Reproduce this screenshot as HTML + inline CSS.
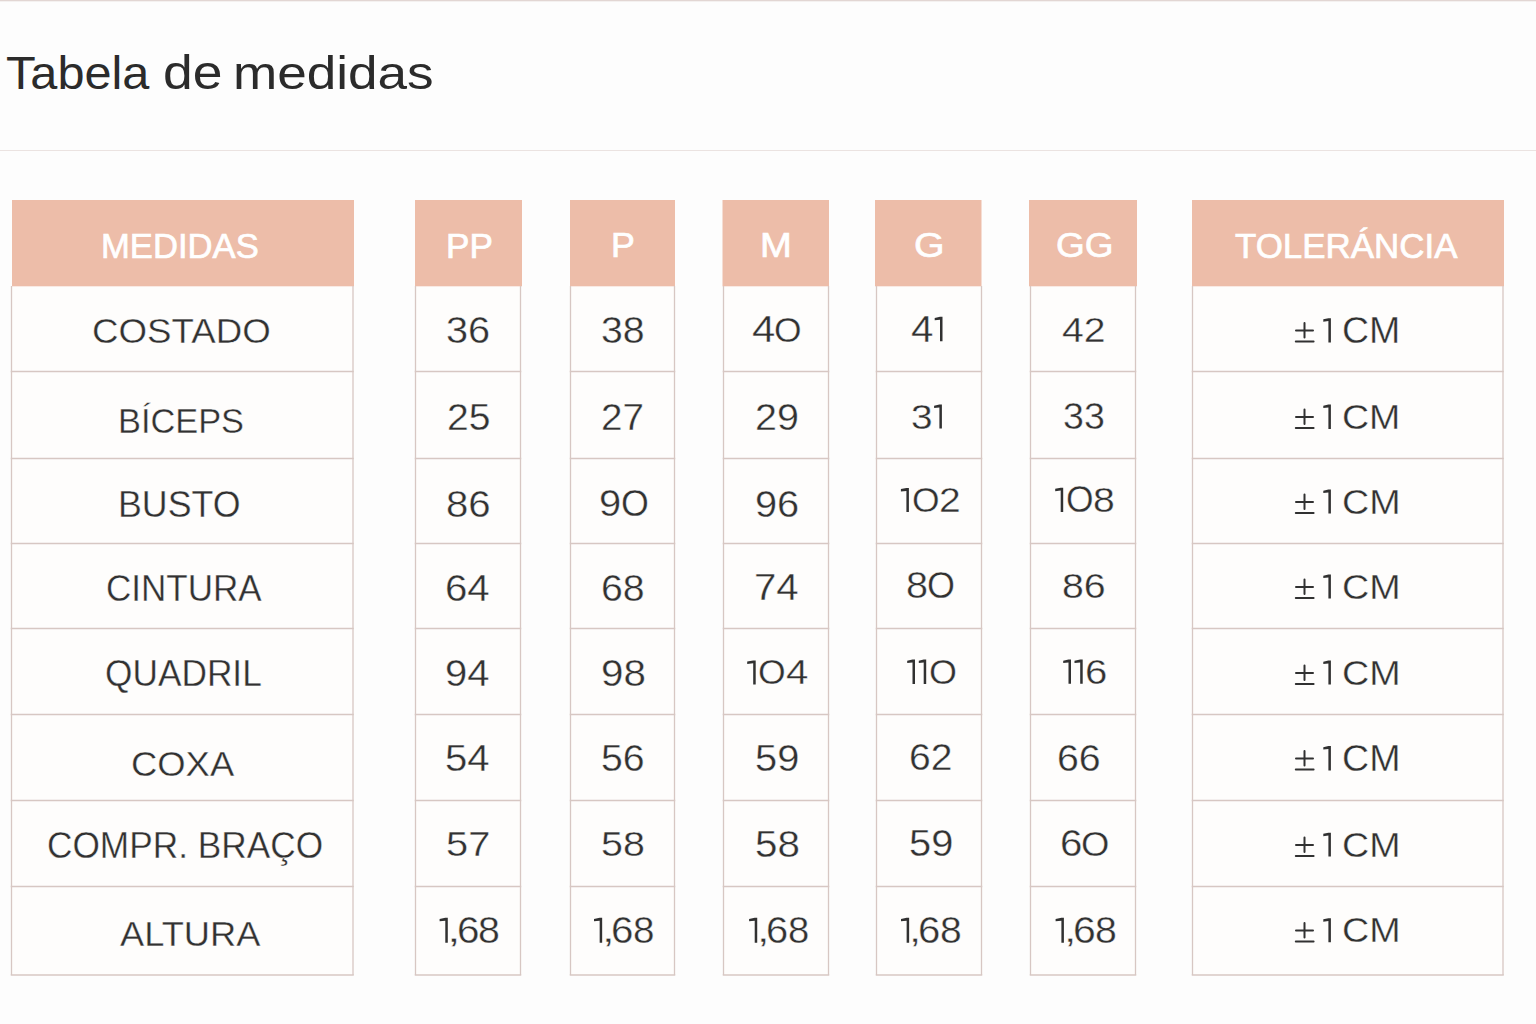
<!DOCTYPE html><html><head><meta charset="utf-8"><style>
html,body{margin:0;padding:0;}
body{width:1536px;height:1024px;position:relative;overflow:hidden;background:#fdfdfd;font-family:"Liberation Sans",sans-serif;}
.t{position:absolute;white-space:nowrap;line-height:1;transform-origin:0 0;}
</style></head><body>
<svg width="1536" height="1024" style="position:absolute;left:0;top:0"><rect x="0" y="0" width="1536" height="1.3" fill="#e2d6d3"/><rect x="0" y="150" width="1536" height="1" fill="#ebe3e1"/><rect x="11.5" y="286.0" width="341.5" height="689.0" fill="#fefdfc"/><rect x="12" y="200" width="342" height="86.3" fill="#edbda9"/><rect x="415.5" y="286.0" width="105.0" height="689.0" fill="#fefdfc"/><rect x="415" y="200" width="107" height="86.3" fill="#edbda9"/><rect x="570.5" y="286.0" width="104.0" height="689.0" fill="#fefdfc"/><rect x="570" y="200" width="105" height="86.3" fill="#edbda9"/><rect x="723.5" y="286.0" width="105.0" height="689.0" fill="#fefdfc"/><rect x="722.5" y="200" width="106.5" height="86.3" fill="#edbda9"/><rect x="876.5" y="286.0" width="105.0" height="689.0" fill="#fefdfc"/><rect x="875" y="200" width="106.5" height="86.3" fill="#edbda9"/><rect x="1030.5" y="286.0" width="105.0" height="689.0" fill="#fefdfc"/><rect x="1029" y="200" width="108" height="86.3" fill="#edbda9"/><rect x="1192.5" y="286.0" width="310.5" height="689.0" fill="#fefdfc"/><rect x="1192" y="200" width="312" height="86.3" fill="#edbda9"/><line x1="11.5" y1="286.0" x2="11.5" y2="975.0" stroke="#d7c7c3" stroke-width="1.3"/><line x1="353.0" y1="286.0" x2="353.0" y2="975.0" stroke="#d7c7c3" stroke-width="1.3"/><line x1="10.75" y1="371.5" x2="353.75" y2="371.5" stroke="#d7c7c3" stroke-width="1.3"/><line x1="10.75" y1="458.5" x2="353.75" y2="458.5" stroke="#d7c7c3" stroke-width="1.3"/><line x1="10.75" y1="543.5" x2="353.75" y2="543.5" stroke="#d7c7c3" stroke-width="1.3"/><line x1="10.75" y1="628.5" x2="353.75" y2="628.5" stroke="#d7c7c3" stroke-width="1.3"/><line x1="10.75" y1="714.5" x2="353.75" y2="714.5" stroke="#d7c7c3" stroke-width="1.3"/><line x1="10.75" y1="800.5" x2="353.75" y2="800.5" stroke="#d7c7c3" stroke-width="1.3"/><line x1="10.75" y1="886.5" x2="353.75" y2="886.5" stroke="#d7c7c3" stroke-width="1.3"/><line x1="10.75" y1="975.0" x2="353.75" y2="975.0" stroke="#d7c7c3" stroke-width="1.3"/><line x1="415.5" y1="286.0" x2="415.5" y2="975.0" stroke="#d7c7c3" stroke-width="1.3"/><line x1="520.5" y1="286.0" x2="520.5" y2="975.0" stroke="#d7c7c3" stroke-width="1.3"/><line x1="414.75" y1="371.5" x2="521.25" y2="371.5" stroke="#d7c7c3" stroke-width="1.3"/><line x1="414.75" y1="458.5" x2="521.25" y2="458.5" stroke="#d7c7c3" stroke-width="1.3"/><line x1="414.75" y1="543.5" x2="521.25" y2="543.5" stroke="#d7c7c3" stroke-width="1.3"/><line x1="414.75" y1="628.5" x2="521.25" y2="628.5" stroke="#d7c7c3" stroke-width="1.3"/><line x1="414.75" y1="714.5" x2="521.25" y2="714.5" stroke="#d7c7c3" stroke-width="1.3"/><line x1="414.75" y1="800.5" x2="521.25" y2="800.5" stroke="#d7c7c3" stroke-width="1.3"/><line x1="414.75" y1="886.5" x2="521.25" y2="886.5" stroke="#d7c7c3" stroke-width="1.3"/><line x1="414.75" y1="975.0" x2="521.25" y2="975.0" stroke="#d7c7c3" stroke-width="1.3"/><line x1="570.5" y1="286.0" x2="570.5" y2="975.0" stroke="#d7c7c3" stroke-width="1.3"/><line x1="674.5" y1="286.0" x2="674.5" y2="975.0" stroke="#d7c7c3" stroke-width="1.3"/><line x1="569.75" y1="371.5" x2="675.25" y2="371.5" stroke="#d7c7c3" stroke-width="1.3"/><line x1="569.75" y1="458.5" x2="675.25" y2="458.5" stroke="#d7c7c3" stroke-width="1.3"/><line x1="569.75" y1="543.5" x2="675.25" y2="543.5" stroke="#d7c7c3" stroke-width="1.3"/><line x1="569.75" y1="628.5" x2="675.25" y2="628.5" stroke="#d7c7c3" stroke-width="1.3"/><line x1="569.75" y1="714.5" x2="675.25" y2="714.5" stroke="#d7c7c3" stroke-width="1.3"/><line x1="569.75" y1="800.5" x2="675.25" y2="800.5" stroke="#d7c7c3" stroke-width="1.3"/><line x1="569.75" y1="886.5" x2="675.25" y2="886.5" stroke="#d7c7c3" stroke-width="1.3"/><line x1="569.75" y1="975.0" x2="675.25" y2="975.0" stroke="#d7c7c3" stroke-width="1.3"/><line x1="723.5" y1="286.0" x2="723.5" y2="975.0" stroke="#d7c7c3" stroke-width="1.3"/><line x1="828.5" y1="286.0" x2="828.5" y2="975.0" stroke="#d7c7c3" stroke-width="1.3"/><line x1="722.75" y1="371.5" x2="829.25" y2="371.5" stroke="#d7c7c3" stroke-width="1.3"/><line x1="722.75" y1="458.5" x2="829.25" y2="458.5" stroke="#d7c7c3" stroke-width="1.3"/><line x1="722.75" y1="543.5" x2="829.25" y2="543.5" stroke="#d7c7c3" stroke-width="1.3"/><line x1="722.75" y1="628.5" x2="829.25" y2="628.5" stroke="#d7c7c3" stroke-width="1.3"/><line x1="722.75" y1="714.5" x2="829.25" y2="714.5" stroke="#d7c7c3" stroke-width="1.3"/><line x1="722.75" y1="800.5" x2="829.25" y2="800.5" stroke="#d7c7c3" stroke-width="1.3"/><line x1="722.75" y1="886.5" x2="829.25" y2="886.5" stroke="#d7c7c3" stroke-width="1.3"/><line x1="722.75" y1="975.0" x2="829.25" y2="975.0" stroke="#d7c7c3" stroke-width="1.3"/><line x1="876.5" y1="286.0" x2="876.5" y2="975.0" stroke="#d7c7c3" stroke-width="1.3"/><line x1="981.5" y1="286.0" x2="981.5" y2="975.0" stroke="#d7c7c3" stroke-width="1.3"/><line x1="875.75" y1="371.5" x2="982.25" y2="371.5" stroke="#d7c7c3" stroke-width="1.3"/><line x1="875.75" y1="458.5" x2="982.25" y2="458.5" stroke="#d7c7c3" stroke-width="1.3"/><line x1="875.75" y1="543.5" x2="982.25" y2="543.5" stroke="#d7c7c3" stroke-width="1.3"/><line x1="875.75" y1="628.5" x2="982.25" y2="628.5" stroke="#d7c7c3" stroke-width="1.3"/><line x1="875.75" y1="714.5" x2="982.25" y2="714.5" stroke="#d7c7c3" stroke-width="1.3"/><line x1="875.75" y1="800.5" x2="982.25" y2="800.5" stroke="#d7c7c3" stroke-width="1.3"/><line x1="875.75" y1="886.5" x2="982.25" y2="886.5" stroke="#d7c7c3" stroke-width="1.3"/><line x1="875.75" y1="975.0" x2="982.25" y2="975.0" stroke="#d7c7c3" stroke-width="1.3"/><line x1="1030.5" y1="286.0" x2="1030.5" y2="975.0" stroke="#d7c7c3" stroke-width="1.3"/><line x1="1135.5" y1="286.0" x2="1135.5" y2="975.0" stroke="#d7c7c3" stroke-width="1.3"/><line x1="1029.75" y1="371.5" x2="1136.25" y2="371.5" stroke="#d7c7c3" stroke-width="1.3"/><line x1="1029.75" y1="458.5" x2="1136.25" y2="458.5" stroke="#d7c7c3" stroke-width="1.3"/><line x1="1029.75" y1="543.5" x2="1136.25" y2="543.5" stroke="#d7c7c3" stroke-width="1.3"/><line x1="1029.75" y1="628.5" x2="1136.25" y2="628.5" stroke="#d7c7c3" stroke-width="1.3"/><line x1="1029.75" y1="714.5" x2="1136.25" y2="714.5" stroke="#d7c7c3" stroke-width="1.3"/><line x1="1029.75" y1="800.5" x2="1136.25" y2="800.5" stroke="#d7c7c3" stroke-width="1.3"/><line x1="1029.75" y1="886.5" x2="1136.25" y2="886.5" stroke="#d7c7c3" stroke-width="1.3"/><line x1="1029.75" y1="975.0" x2="1136.25" y2="975.0" stroke="#d7c7c3" stroke-width="1.3"/><line x1="1192.5" y1="286.0" x2="1192.5" y2="975.0" stroke="#d7c7c3" stroke-width="1.3"/><line x1="1503.0" y1="286.0" x2="1503.0" y2="975.0" stroke="#d7c7c3" stroke-width="1.3"/><line x1="1191.75" y1="371.5" x2="1503.75" y2="371.5" stroke="#d7c7c3" stroke-width="1.3"/><line x1="1191.75" y1="458.5" x2="1503.75" y2="458.5" stroke="#d7c7c3" stroke-width="1.3"/><line x1="1191.75" y1="543.5" x2="1503.75" y2="543.5" stroke="#d7c7c3" stroke-width="1.3"/><line x1="1191.75" y1="628.5" x2="1503.75" y2="628.5" stroke="#d7c7c3" stroke-width="1.3"/><line x1="1191.75" y1="714.5" x2="1503.75" y2="714.5" stroke="#d7c7c3" stroke-width="1.3"/><line x1="1191.75" y1="800.5" x2="1503.75" y2="800.5" stroke="#d7c7c3" stroke-width="1.3"/><line x1="1191.75" y1="886.5" x2="1503.75" y2="886.5" stroke="#d7c7c3" stroke-width="1.3"/><line x1="1191.75" y1="975.0" x2="1503.75" y2="975.0" stroke="#d7c7c3" stroke-width="1.3"/></svg>
<div class="t" style="left:6.105px;top:49.213px;font-size:49.400px;transform:scale(0.98542,0.94444);color:#2b2b2b;">Tabela</div>
<div class="t" style="left:163.206px;top:48.692px;font-size:48.800px;transform:scale(1.09562,0.97284);color:#2b2b2b;">de</div>
<div class="t" style="left:233.488px;top:49.213px;font-size:49.400px;transform:scale(1.07479,0.94444);color:#2b2b2b;">medidas</div>
<div class="t" style="left:101.327px;top:228.680px;font-size:35.900px;transform:scale(0.96523,0.99085);color:#ffffff;-webkit-text-stroke:0.7px #ffffff;">MEDIDAS</div>
<div class="t" style="left:446.193px;top:229.756px;font-size:34.900px;transform:scale(1.00828,0.97951);color:#ffffff;-webkit-text-stroke:0.7px #ffffff;">PP</div>
<div class="t" style="left:610.853px;top:227.493px;font-size:35.200px;transform:scale(1.01796,0.98768);color:#ffffff;-webkit-text-stroke:0.7px #ffffff;">P</div>
<div class="t" style="left:760.076px;top:227.493px;font-size:35.200px;transform:scale(1.08546,0.98768);color:#ffffff;-webkit-text-stroke:0.7px #ffffff;">M</div>
<div class="t" style="left:914.149px;top:228.495px;font-size:36.300px;transform:scale(1.08274,0.97185);color:#ffffff;-webkit-text-stroke:0.7px #ffffff;">G</div>
<div class="t" style="left:1055.944px;top:228.495px;font-size:36.300px;transform:scale(1.01842,0.97185);color:#ffffff;-webkit-text-stroke:0.7px #ffffff;">GG</div>
<div class="t" style="left:1234.876px;top:228.393px;font-size:35.200px;transform:scale(0.99196,0.99210);color:#ffffff;-webkit-text-stroke:0.7px #ffffff;">TOLERÁNCIA</div>
<div class="t" style="left:92.110px;top:312.556px;font-size:34.000px;transform:scale(1.07889,1.04556);color:#313131;-webkit-text-stroke:0.35px #fefdfc;">COSTADO</div>
<div class="t" style="left:446.214px;top:313.001px;font-size:36.900px;transform:scale(1.07442,1.00760);color:#313131;-webkit-text-stroke:0.35px #fefdfc;">36</div>
<div class="t" style="left:600.754px;top:312.613px;font-size:36.900px;transform:scale(1.06210,0.99620);color:#313131;-webkit-text-stroke:0.35px #fefdfc;">38</div>
<div class="t" style="left:751.688px;top:310.929px;font-size:35.300px;transform:scale(1.18926,1.03562);color:#313131;-webkit-text-stroke:0.35px #fefdfc;">4</div>
<div class="t" style="left:774.180px;top:312.137px;font-size:35.300px;transform:scale(1.00379,0.99338);color:#313131;-webkit-text-stroke:0.35px #fefdfc;">O</div>
<div class="t" style="left:911.244px;top:311.252px;font-size:35.500px;transform:scale(1.13718,1.05418);color:#313131;-webkit-text-stroke:0.35px #fefdfc;">4</div>
<div class="t" style="left:1061.527px;top:311.434px;font-size:35.200px;transform:scale(1.11174,1.02151);color:#313131;-webkit-text-stroke:0.35px #fefdfc;">42</div>
<div class="t" style="left:1342.090px;top:311.701px;font-size:35.300px;transform:scale(1.06314,1.02915);color:#313131;-webkit-text-stroke:0.35px #fefdfc;">CM</div>
<div class="t" style="left:118.290px;top:403.192px;font-size:34.900px;transform:scale(0.98413,1.01911);color:#313131;-webkit-text-stroke:0.35px #fefdfc;">BÍCEPS</div>
<div class="t" style="left:446.906px;top:399.791px;font-size:36.300px;transform:scale(1.07667,0.99627);color:#313131;-webkit-text-stroke:0.35px #fefdfc;">25</div>
<div class="t" style="left:600.820px;top:399.791px;font-size:36.300px;transform:scale(1.06329,0.99627);color:#313131;-webkit-text-stroke:0.35px #fefdfc;">27</div>
<div class="t" style="left:754.726px;top:398.956px;font-size:35.900px;transform:scale(1.10080,1.05305);color:#313131;-webkit-text-stroke:0.35px #fefdfc;">29</div>
<div class="t" style="left:910.935px;top:400.062px;font-size:34.900px;transform:scale(1.11215,0.98429);color:#313131;-webkit-text-stroke:0.35px #fefdfc;">3</div>
<div class="t" style="left:1063.079px;top:398.695px;font-size:35.900px;transform:scale(1.04584,1.04960);color:#313131;-webkit-text-stroke:0.35px #fefdfc;">33</div>
<div class="t" style="left:1342.433px;top:400.499px;font-size:35.500px;transform:scale(1.05645,1.00992);color:#313131;-webkit-text-stroke:0.35px #fefdfc;">CM</div>
<div class="t" style="left:117.949px;top:486.707px;font-size:35.800px;transform:scale(0.99884,1.01981);color:#313131;-webkit-text-stroke:0.35px #fefdfc;">BUSTO</div>
<div class="t" style="left:445.696px;top:486.554px;font-size:35.800px;transform:scale(1.12249,1.02510);color:#313131;-webkit-text-stroke:0.35px #fefdfc;">86</div>
<div class="t" style="left:598.885px;top:486.467px;font-size:35.800px;transform:scale(1.11398,1.01929);color:#313131;-webkit-text-stroke:0.35px #fefdfc;">9</div>
<div class="t" style="left:621.253px;top:485.563px;font-size:35.800px;transform:scale(1.00137,1.04826);color:#313131;-webkit-text-stroke:0.35px #fefdfc;">O</div>
<div class="t" style="left:754.915px;top:487.198px;font-size:36.300px;transform:scale(1.09579,0.99709);color:#313131;-webkit-text-stroke:0.35px #fefdfc;">96</div>
<div class="t" style="left:912.283px;top:482.384px;font-size:34.700px;transform:scale(1.02170,1.03755);color:#313131;-webkit-text-stroke:0.35px #fefdfc;">O</div>
<div class="t" style="left:939.114px;top:483.236px;font-size:34.700px;transform:scale(1.12365,0.99483);color:#313131;-webkit-text-stroke:0.35px #fefdfc;">2</div>
<div class="t" style="left:1065.925px;top:480.890px;font-size:35.200px;transform:scale(1.00661,1.02619);color:#313131;-webkit-text-stroke:0.35px #fefdfc;">O</div>
<div class="t" style="left:1093.084px;top:482.277px;font-size:35.200px;transform:scale(1.11293,0.98727);color:#313131;-webkit-text-stroke:0.35px #fefdfc;">8</div>
<div class="t" style="left:1341.862px;top:484.221px;font-size:34.700px;transform:scale(1.08585,1.02222);color:#313131;-webkit-text-stroke:0.35px #fefdfc;">CM</div>
<div class="t" style="left:106.196px;top:570.608px;font-size:35.800px;transform:scale(0.97870,1.02801);color:#313131;-webkit-text-stroke:0.35px #fefdfc;">CINTURA</div>
<div class="t" style="left:444.993px;top:570.607px;font-size:35.800px;transform:scale(1.12383,1.02818);color:#313131;-webkit-text-stroke:0.35px #fefdfc;">64</div>
<div class="t" style="left:600.756px;top:569.828px;font-size:35.800px;transform:scale(1.09660,1.05393);color:#313131;-webkit-text-stroke:0.35px #fefdfc;">68</div>
<div class="t" style="left:753.565px;top:570.420px;font-size:36.800px;transform:scale(1.09064,0.99053);color:#313131;-webkit-text-stroke:0.35px #fefdfc;">74</div>
<div class="t" style="left:905.898px;top:567.545px;font-size:35.500px;transform:scale(1.11645,1.04363);color:#313131;-webkit-text-stroke:0.35px #fefdfc;">8</div>
<div class="t" style="left:927.089px;top:567.915px;font-size:35.500px;transform:scale(1.01247,1.03072);color:#313131;-webkit-text-stroke:0.35px #fefdfc;">O</div>
<div class="t" style="left:1061.989px;top:568.234px;font-size:36.000px;transform:scale(1.09204,0.99620);color:#313131;-webkit-text-stroke:0.35px #fefdfc;">86</div>
<div class="t" style="left:1341.862px;top:569.221px;font-size:34.700px;transform:scale(1.08585,1.02222);color:#313131;-webkit-text-stroke:0.35px #fefdfc;">CM</div>
<div class="t" style="left:104.913px;top:655.608px;font-size:35.800px;transform:scale(0.98527,1.02801);color:#313131;-webkit-text-stroke:0.35px #fefdfc;">QUADRIL</div>
<div class="t" style="left:445.054px;top:654.879px;font-size:35.800px;transform:scale(1.11818,1.05216);color:#313131;-webkit-text-stroke:0.35px #fefdfc;">94</div>
<div class="t" style="left:600.748px;top:654.776px;font-size:35.800px;transform:scale(1.12820,1.05571);color:#313131;-webkit-text-stroke:0.35px #fefdfc;">98</div>
<div class="t" style="left:758.356px;top:653.957px;font-size:35.200px;transform:scale(1.00946,1.00829);color:#313131;-webkit-text-stroke:0.35px #fefdfc;">O</div>
<div class="t" style="left:785.925px;top:655.497px;font-size:35.200px;transform:scale(1.14404,0.98225);color:#313131;-webkit-text-stroke:0.35px #fefdfc;">4</div>
<div class="t" style="left:929.040px;top:654.372px;font-size:35.300px;transform:scale(1.01672,0.99970);color:#313131;-webkit-text-stroke:0.35px #fefdfc;">O</div>
<div class="t" style="left:1084.575px;top:654.608px;font-size:35.000px;transform:scale(1.14750,0.98189);color:#313131;-webkit-text-stroke:0.35px #fefdfc;">6</div>
<div class="t" style="left:1341.875px;top:655.166px;font-size:34.900px;transform:scale(1.07970,1.02650);color:#313131;-webkit-text-stroke:0.35px #fefdfc;">CM</div>
<div class="t" style="left:130.840px;top:746.085px;font-size:35.200px;transform:scale(1.03461,0.99496);color:#313131;-webkit-text-stroke:0.35px #fefdfc;">COXA</div>
<div class="t" style="left:444.966px;top:739.878px;font-size:35.800px;transform:scale(1.12046,1.05234);color:#313131;-webkit-text-stroke:0.35px #fefdfc;">54</div>
<div class="t" style="left:600.802px;top:739.878px;font-size:35.800px;transform:scale(1.09541,1.05234);color:#313131;-webkit-text-stroke:0.35px #fefdfc;">56</div>
<div class="t" style="left:754.887px;top:741.018px;font-size:36.800px;transform:scale(1.08169,0.99622);color:#313131;-webkit-text-stroke:0.35px #fefdfc;">59</div>
<div class="t" style="left:909.189px;top:740.083px;font-size:35.900px;transform:scale(1.08751,1.02417);color:#313131;-webkit-text-stroke:0.35px #fefdfc;">62</div>
<div class="t" style="left:1056.995px;top:740.965px;font-size:36.800px;transform:scale(1.06718,0.99853);color:#313131;-webkit-text-stroke:0.35px #fefdfc;">66</div>
<div class="t" style="left:1341.865px;top:740.012px;font-size:35.300px;transform:scale(1.06534,1.03933);color:#313131;-webkit-text-stroke:0.35px #fefdfc;">CM</div>
<div class="t" style="left:47.245px;top:827.583px;font-size:36.900px;transform:scale(0.95521,1.00077);color:#313131;-webkit-text-stroke:0.35px #fefdfc;">COMPR. BRAÇO</div>
<div class="t" style="left:445.831px;top:826.578px;font-size:35.000px;transform:scale(1.13775,0.97878);color:#313131;-webkit-text-stroke:0.35px #fefdfc;">57</div>
<div class="t" style="left:600.629px;top:826.578px;font-size:35.000px;transform:scale(1.12668,0.97878);color:#313131;-webkit-text-stroke:0.35px #fefdfc;">58</div>
<div class="t" style="left:755.104px;top:827.256px;font-size:36.300px;transform:scale(1.11211,0.99441);color:#313131;-webkit-text-stroke:0.35px #fefdfc;">58</div>
<div class="t" style="left:909.060px;top:825.599px;font-size:36.300px;transform:scale(1.09741,0.99813);color:#313131;-webkit-text-stroke:0.35px #fefdfc;">59</div>
<div class="t" style="left:1059.690px;top:825.651px;font-size:34.600px;transform:scale(1.16399,1.04318);color:#313131;-webkit-text-stroke:0.35px #fefdfc;">6</div>
<div class="t" style="left:1081.190px;top:826.775px;font-size:34.600px;transform:scale(1.05409,0.99623);color:#313131;-webkit-text-stroke:0.35px #fefdfc;">O</div>
<div class="t" style="left:1341.865px;top:827.462px;font-size:34.600px;transform:scale(1.08654,1.01795);color:#313131;-webkit-text-stroke:0.35px #fefdfc;">CM</div>
<div class="t" style="left:119.809px;top:915.256px;font-size:35.200px;transform:scale(1.03004,1.02151);color:#313131;-webkit-text-stroke:0.35px #fefdfc;">ALTURA</div>
<div class="t" style="left:447.048px;top:913.266px;font-size:36.000px;transform:scale(1.36612,0.97493);color:#313131;-webkit-text-stroke:0.35px #fefdfc;">,</div>
<div class="t" style="left:457.293px;top:912.837px;font-size:36.200px;transform:scale(1.11604,1.00465);color:#313131;-webkit-text-stroke:0.35px #fefdfc;">6</div>
<div class="t" style="left:477.866px;top:913.127px;font-size:36.200px;transform:scale(1.08580,0.99479);color:#313131;-webkit-text-stroke:0.35px #fefdfc;">8</div>
<div class="t" style="left:602.200px;top:912.185px;font-size:36.000px;transform:scale(1.26749,0.99453);color:#313131;-webkit-text-stroke:0.35px #fefdfc;">,</div>
<div class="t" style="left:611.199px;top:912.967px;font-size:36.200px;transform:scale(1.11351,1.00466);color:#313131;-webkit-text-stroke:0.35px #fefdfc;">6</div>
<div class="t" style="left:632.886px;top:912.989px;font-size:36.200px;transform:scale(1.06650,1.00120);color:#313131;-webkit-text-stroke:0.35px #fefdfc;">8</div>
<div class="t" style="left:756.519px;top:912.199px;font-size:36.000px;transform:scale(1.24677,0.99401);color:#313131;-webkit-text-stroke:0.35px #fefdfc;">,</div>
<div class="t" style="left:766.269px;top:913.026px;font-size:36.200px;transform:scale(1.10124,1.00302);color:#313131;-webkit-text-stroke:0.35px #fefdfc;">6</div>
<div class="t" style="left:787.552px;top:913.118px;font-size:36.200px;transform:scale(1.05564,0.99509);color:#313131;-webkit-text-stroke:0.35px #fefdfc;">8</div>
<div class="t" style="left:909.141px;top:913.232px;font-size:36.000px;transform:scale(1.21164,0.97638);color:#313131;-webkit-text-stroke:0.35px #fefdfc;">,</div>
<div class="t" style="left:918.041px;top:913.004px;font-size:36.200px;transform:scale(1.10835,1.00392);color:#313131;-webkit-text-stroke:0.35px #fefdfc;">6</div>
<div class="t" style="left:939.710px;top:912.820px;font-size:36.200px;transform:scale(1.07877,1.00575);color:#313131;-webkit-text-stroke:0.35px #fefdfc;">8</div>
<div class="t" style="left:1063.688px;top:913.232px;font-size:36.000px;transform:scale(1.23450,0.97638);color:#313131;-webkit-text-stroke:0.35px #fefdfc;">,</div>
<div class="t" style="left:1072.660px;top:913.042px;font-size:36.200px;transform:scale(1.13083,1.00138);color:#313131;-webkit-text-stroke:0.35px #fefdfc;">6</div>
<div class="t" style="left:1094.555px;top:912.926px;font-size:36.200px;transform:scale(1.08384,1.00563);color:#313131;-webkit-text-stroke:0.35px #fefdfc;">8</div>
<div class="t" style="left:1341.875px;top:912.355px;font-size:34.900px;transform:scale(1.07970,1.02650);color:#313131;-webkit-text-stroke:0.35px #fefdfc;">CM</div>
<svg width="1536" height="1024" style="position:absolute;left:0;top:0"><path d="M934.70,317.90 L940.00,316.80 L942.50,316.80 L942.50,341.25 L940.00,341.25 L940.00,319.70 L934.70,320.30 Z" fill="#313131"/><path d="M1304.5,323.00V337.60M1296,330.50H1313M1295.8,341.50H1313.6" fill="none" stroke="#313131" stroke-width="2" stroke-linecap="round"/><path d="M1323.30,319.30 L1328.40,318.20 L1330.90,318.20 L1330.90,342.50 L1328.40,342.50 L1328.40,321.10 L1323.30,321.70 Z" fill="#313131"/><path d="M934.10,405.70 L939.40,404.60 L941.90,404.60 L941.90,428.60 L939.40,428.60 L939.40,407.50 L934.10,408.10 Z" fill="#313131"/><path d="M1304.5,409.40V424.00M1296,416.90H1313M1295.8,427.90H1313.6" fill="none" stroke="#313131" stroke-width="2" stroke-linecap="round"/><path d="M1323.30,405.70 L1328.40,404.60 L1330.90,404.60 L1330.90,429.00 L1328.40,429.00 L1328.40,407.50 L1323.30,408.10 Z" fill="#313131"/><path d="M900.90,489.10 L906.40,488.00 L908.90,488.00 L908.90,511.90 L906.40,511.90 L906.40,490.90 L900.90,491.50 Z" fill="#313131"/><path d="M1055.20,488.80 L1060.70,487.70 L1063.20,487.70 L1063.20,511.90 L1060.70,511.90 L1060.70,490.60 L1055.20,491.20 Z" fill="#313131"/><path d="M1304.5,494.40V509.00M1296,501.90H1313M1295.8,512.90H1313.6" fill="none" stroke="#313131" stroke-width="2" stroke-linecap="round"/><path d="M1323.30,490.70 L1328.40,489.60 L1330.90,489.60 L1330.90,513.50 L1328.40,513.50 L1328.40,492.50 L1323.30,493.10 Z" fill="#313131"/><path d="M1304.5,579.40V594.00M1296,586.90H1313M1295.8,597.90H1313.6" fill="none" stroke="#313131" stroke-width="2" stroke-linecap="round"/><path d="M1323.30,575.70 L1328.40,574.60 L1330.90,574.60 L1330.90,598.50 L1328.40,598.50 L1328.40,577.50 L1323.30,578.10 Z" fill="#313131"/><path d="M747.20,661.50 L753.20,660.40 L755.70,660.40 L755.70,684.60 L753.20,684.60 L753.20,663.30 L747.20,663.90 Z" fill="#313131"/><path d="M907.20,660.70 L912.50,659.60 L915.00,659.60 L915.00,683.90 L912.50,683.90 L912.50,662.50 L907.20,663.10 Z" fill="#313131"/><path d="M918.80,660.70 L923.70,659.60 L926.20,659.60 L926.20,683.90 L923.70,683.90 L923.70,662.50 L918.80,663.10 Z" fill="#313131"/><path d="M1063.20,660.70 L1068.50,659.60 L1071.00,659.60 L1071.00,683.70 L1068.50,683.70 L1068.50,662.50 L1063.20,663.10 Z" fill="#313131"/><path d="M1074.50,660.70 L1080.20,659.60 L1082.70,659.60 L1082.70,683.70 L1080.20,683.70 L1080.20,662.50 L1074.50,663.10 Z" fill="#313131"/><path d="M1304.5,665.40V680.00M1296,672.90H1313M1295.8,683.90H1313.6" fill="none" stroke="#313131" stroke-width="2" stroke-linecap="round"/><path d="M1323.30,661.70 L1328.40,660.60 L1330.90,660.60 L1330.90,684.60 L1328.40,684.60 L1328.40,663.50 L1323.30,664.10 Z" fill="#313131"/><path d="M1304.5,750.90V765.50M1296,758.40H1313M1295.8,769.40H1313.6" fill="none" stroke="#313131" stroke-width="2" stroke-linecap="round"/><path d="M1323.30,747.20 L1328.40,746.10 L1330.90,746.10 L1330.90,770.40 L1328.40,770.40 L1328.40,749.00 L1323.30,749.60 Z" fill="#313131"/><path d="M1304.5,837.50V852.10M1296,845.00H1313M1295.8,856.00H1313.6" fill="none" stroke="#313131" stroke-width="2" stroke-linecap="round"/><path d="M1323.30,833.80 L1328.40,832.70 L1330.90,832.70 L1330.90,856.50 L1328.40,856.50 L1328.40,835.60 L1323.30,836.20 Z" fill="#313131"/><path d="M439.60,918.90 L445.29,917.80 L447.79,917.80 L447.79,942.70 L445.29,942.70 L445.29,920.70 L439.60,921.30 Z" fill="#313131"/><path d="M594.00,918.90 L599.67,917.80 L602.17,917.80 L602.17,942.70 L599.67,942.70 L599.67,920.70 L594.00,921.30 Z" fill="#313131"/><path d="M749.10,918.90 L754.72,917.80 L757.22,917.80 L757.22,942.70 L754.72,942.70 L754.72,920.70 L749.10,921.30 Z" fill="#313131"/><path d="M901.00,918.90 L906.64,917.80 L909.14,917.80 L909.14,942.70 L906.64,942.70 L906.64,920.70 L901.00,921.30 Z" fill="#313131"/><path d="M1055.60,918.90 L1061.40,917.80 L1063.90,917.80 L1063.90,942.70 L1061.40,942.70 L1061.40,920.70 L1055.60,921.30 Z" fill="#313131"/><path d="M1304.5,923.00V937.60M1296,930.50H1313M1295.8,941.50H1313.6" fill="none" stroke="#313131" stroke-width="2" stroke-linecap="round"/><path d="M1323.30,919.30 L1328.40,918.20 L1330.90,918.20 L1330.90,942.20 L1328.40,942.20 L1328.40,921.10 L1323.30,921.70 Z" fill="#313131"/></svg>
</body></html>
